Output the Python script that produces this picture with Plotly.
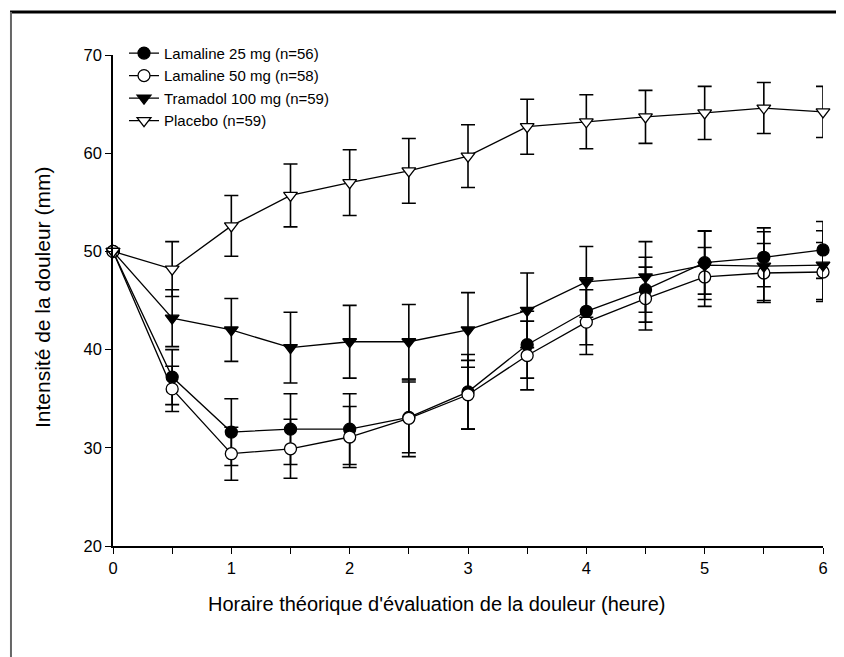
import plotly.graph_objects as go

times = [0, 0.5, 1, 1.5, 2, 2.5, 3, 3.5, 4, 4.5, 5, 5.5, 6]

lam25 = [50, 37.2, 31.6, 31.9, 31.9, 33.1, 35.7, 40.5, 43.9, 46.1, 48.85, 49.4, 50.15]
lam25_err = [0, 2.8, 3.4, 3.6, 3.6, 3.6, 3.8, 3.4, 3.4, 3.3, 3.2, 3.0, 2.9]

lam50 = [50, 36.0, 29.4, 29.9, 31.1, 33.0, 35.4, 39.4, 42.8, 45.2, 47.4, 47.8, 47.9]
lam50_err = [0, 2.3, 2.7, 3.0, 3.1, 3.9, 3.5, 3.5, 3.3, 3.2, 3.0, 3.0, 3.0]

tram = [50, 43.2, 42.0, 40.2, 40.8, 40.8, 42.0, 44.0, 46.9, 47.4, 48.6, 48.5, 48.6]
tram_err = [0, 2.9, 3.2, 3.6, 3.7, 3.8, 3.8, 3.8, 3.6, 3.6, 3.5, 3.5, 3.5]

placebo = [50, 48.2, 52.6, 55.7, 57.0, 58.2, 59.7, 62.7, 63.2, 63.7, 64.1, 64.6, 64.2]
placebo_err = [0, 2.8, 3.1, 3.2, 3.35, 3.3, 3.2, 2.8, 2.75, 2.7, 2.7, 2.6, 2.6]

names = ["Lamaline 25 mg (n=56)", "Lamaline 50 mg (n=58)",
         "Tramadol 100 mg (n=59)", "Placebo (n=59)"]

x_ticks = [0, 1, 2, 3, 4, 5, 6]
y_ticks = [20, 30, 40, 50, 60, 70]

x_title = "Horaire théorique d'évaluation de la douleur (heure)"
y_title = "Intensité de la douleur (mm)"

FONT = "Liberation Sans, Arial, sans-serif"

series = [
    (names[0], lam25, lam25_err, "circle", "black"),
    (names[1], lam50, lam50_err, "circle", "white"),
    (names[2], tram, tram_err, "triangle-down", "black"),
    (names[3], placebo, placebo_err, "triangle-down", "white"),
]

fig = go.Figure()
for name, vals, errs, sym, fill in series:
    fig.add_trace(go.Scatter(
        x=times, y=vals, name=name, mode="lines+markers", cliponaxis=False,
        line=dict(color="black", width=1.3),
        marker=dict(symbol=sym, size=12, color=fill,
                    line=dict(color="black", width=1.3)),
        error_y=dict(type="data", array=errs, visible=True,
                     color="black", thickness=1.6, width=7),
    ))

fig.update_layout(
    width=844, height=657,
    margin=dict(l=105, r=29, t=47, b=119),
    paper_bgcolor="white", plot_bgcolor="white",
    font=dict(family=FONT, color="black"),
    showlegend=True,
    legend=dict(x=0.0155, y=1.037, xanchor="left", yanchor="top",
                font=dict(size=15, family=FONT), bgcolor="rgba(0,0,0,0)",
                tracegroupgap=0),
    xaxis=dict(range=[0, 6], tickvals=x_ticks, ticktext=[str(v) for v in x_ticks],
               showgrid=False, zeroline=False, showline=True, linecolor="black",
               linewidth=1.5, ticks="outside", ticklen=6, tickwidth=1.3,
               tickcolor="black", tickfont=dict(size=16.5),
               minor=dict(tickvals=[0.5, 1.5, 2.5, 3.5, 4.5, 5.5], ticks="outside",
                          ticklen=6, tickwidth=1.3, tickcolor="black")),
    yaxis=dict(range=[20, 70], tickvals=y_ticks, ticktext=[str(v) for v in y_ticks],
               showgrid=False, zeroline=False, showline=True, linecolor="black",
               linewidth=1.5, ticks="outside", ticklen=6, tickwidth=1.3,
               tickcolor="black", tickfont=dict(size=16.5)),
    annotations=[
        dict(text=x_title, xref="paper", yref="paper", x=0.455, y=-0.119,
             xanchor="center", yanchor="middle", showarrow=False,
             font=dict(size=20, family=FONT, color="black")),
        dict(text=y_title, xref="paper", yref="paper", x=-0.1, y=0.505,
             xanchor="center", yanchor="middle", showarrow=False, textangle=-90,
             font=dict(size=21, family=FONT, color="black")),
    ],
    shapes=[
        dict(type="line", xref="paper", yref="paper",
             x0=-0.145, x1=1.05, y0=1.0876, y1=1.0876,
             line=dict(color="black", width=3)),
        dict(type="line", xref="paper", yref="paper",
             x0=-0.1437, x1=-0.1437, y0=1.0876, y1=-0.25,
             line=dict(color="#666666", width=2)),
    ],
)

fig.write_html("out.html")
